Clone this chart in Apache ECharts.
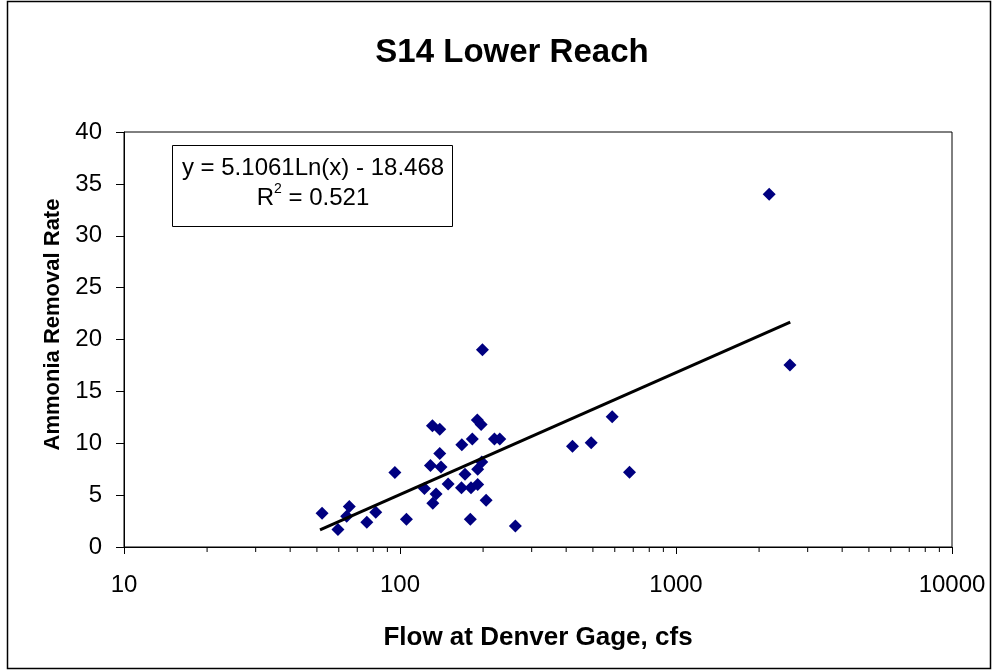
<!DOCTYPE html>
<html>
<head>
<meta charset="utf-8">
<script src="https://cdn.jsdelivr.net/npm/echarts@6/dist/echarts.min.js"></script>
<style>
  html, body { margin: 0; padding: 0; background: #fff; }
  #chart { width: 996px; height: 671px; }
</style>
</head>
<body>
<div id="chart"></div>
<script>
// flow at Denver gage (cfs) and ammonia removal rate
var flow = [52.2, 59.6, 65.5, 64.1, 75.8, 81.7, 95.8, 105.5, 122.6, 128.9,
            131.1, 139.3, 131.5, 135.1, 139.3, 140.8, 149.4, 167.5, 167, 172,
            179.8, 180.8, 182.8, 191.2, 190.6, 196.8, 191.2, 197.8, 198.9, 205.1,
            219.9, 229.9, 261.9, 421.6, 492.8, 587.1, 678.6, 2176, 2587];
var rate = [3.25, 1.68, 3.9, 2.96, 2.38, 3.35, 7.18, 2.67, 5.63, 7.86,
            11.68, 11.36, 4.22, 5.12, 9.01, 7.72, 6.08, 9.85, 5.7, 7.02,
            2.67, 5.7, 10.4, 6.02, 12.23, 11.81, 7.5, 8.2, 19.02, 4.51,
            10.4, 10.4, 2.03, 9.72, 10.04, 12.55, 7.21, 34.0, 17.54];
// log trendline endpoints (straight on a log x axis)
var trendX = [51.3, 2594];
var trendY = [1.64, 21.67];
var eqLine1 = 'y = 5.1061Ln(x) - 18.468';
var eqLine2 = '0.521';

var font = 'Liberation Sans, Arial, sans-serif';

var points = flow.map(function (f, i) { return [f, rate[i]]; });
var trend = trendX.map(function (x, i) { return [x, trendY[i]]; });

// minor ticks at 2..9 of each decade
var minorTicks = [];
for (var d = 10; d < 10000; d *= 10) {
  for (var k = 2; k <= 9; k++) minorTicks.push([d * k, 0]);
}

var chart = echarts.init(document.getElementById('chart'));
var option = {
  animation: false,
  backgroundColor: '#fff',
  title: {
    text: 'S14 Lower Reach',
    left: 507,
    top: 31,
    textAlign: 'center',
    textStyle: { fontFamily: font, fontSize: 33, fontWeight: 'bold', color: '#000' }
  },
  grid: {
    left: 124, right: 44, top: 132, bottom: 124,
    show: true, borderColor: '#000', borderWidth: 1, backgroundColor: '#fff'
  },
  xAxis: {
    type: 'log',
    logBase: 10,
    min: 10,
    max: 10000,
    name: 'Flow at Denver Gage, cfs',
    nameLocation: 'middle',
    nameGap: 78,
    nameTextStyle: { fontFamily: font, fontSize: 26, fontWeight: 'bold', color: '#000' },
    axisLine: { lineStyle: { color: '#000', width: 1 } },
    axisTick: { show: true, length: 7, lineStyle: { color: '#000' } },
    axisLabel: {
      fontFamily: font, fontSize: 24, color: '#000', margin: 26,
      formatter: function (v) { return String(Math.round(v)); }
    },
    splitLine: { show: false }
  },
  yAxis: {
    type: 'value',
    min: 0,
    max: 40,
    interval: 5,
    name: 'Ammonia Removal Rate',
    nameLocation: 'middle',
    nameGap: 60,
    nameTextStyle: {
      fontFamily: font, fontSize: 22, fontWeight: 'bold', color: '#000',
      padding: [0, 0, 0, 30]
    },
    axisLine: { show: true, lineStyle: { color: '#000', width: 1 } },
    axisTick: { show: true, length: 8, lineStyle: { color: '#000' } },
    axisLabel: { fontFamily: font, fontSize: 24, color: '#000', margin: 22 },
    splitLine: { show: false }
  },
  graphic: [
    {
      type: 'rect',
      shape: { x: 7.5, y: 1.5, width: 983, height: 667 },
      style: { fill: null, stroke: '#000', lineWidth: 1.5 },
      silent: true
    },
    {
      type: 'rect',
      shape: { x: 172.5, y: 145.5, width: 280, height: 81 },
      style: { fill: '#fff', stroke: '#000', lineWidth: 1 },
      z: 10
    },
    {
      type: 'text',
      x: 313, y: 168,
      z: 11,
      style: {
        text: eqLine1,
        font: '24px ' + font,
        fill: '#000',
        align: 'center',
        verticalAlign: 'middle'
      }
    },
    {
      type: 'text',
      x: 313, y: 196,
      z: 11,
      style: {
        text: '{b|R}{s|2}{b| = ' + eqLine2 + '}',
        align: 'center',
        verticalAlign: 'middle',
        rich: {
          b: { fontFamily: font, fontSize: 24, color: '#000', verticalAlign: 'bottom', lineHeight: 28 },
          s: { fontFamily: font, fontSize: 14, color: '#000', verticalAlign: 'top', lineHeight: 28, padding: [0, 0, 12, 0] }
        }
      }
    }
  ],
  series: [
    {
      name: 'Ammonia Removal Rate',
      type: 'scatter',
      data: points,
      symbol: 'diamond',
      symbolSize: 13,
      itemStyle: { color: '#000080', opacity: 1 },
      z: 3
    },
    {
      name: 'Log trend',
      type: 'line',
      data: trend,
      symbol: 'none',
      lineStyle: { color: '#000', width: 3 },
      z: 4
    },
    {
      name: 'minor ticks',
      type: 'custom',
      data: minorTicks,
      clip: false,
      silent: true,
      renderItem: function (params, api) {
        var p = api.coord([api.value(0), 0]);
        return {
          type: 'line',
          shape: { x1: p[0], y1: p[1], x2: p[0], y2: p[1] + 5 },
          style: { stroke: '#000', lineWidth: 1 }
        };
      }
    }
  ]
};
chart.setOption(option);
window.addEventListener('resize', function () {
  chart.resize();
});
</script>
</body>
</html>
